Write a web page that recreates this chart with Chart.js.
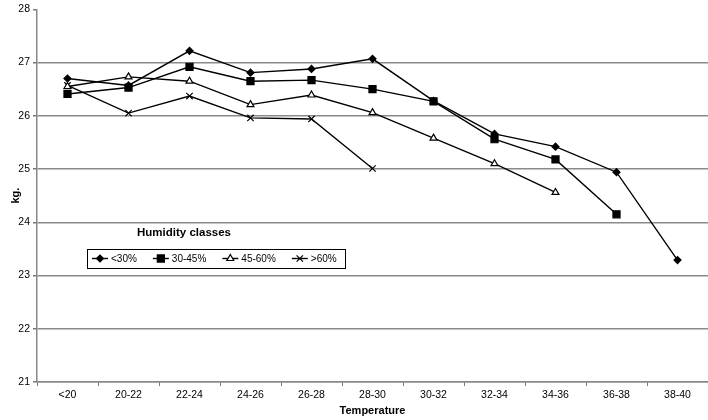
<!DOCTYPE html>
<html>
<head>
<meta charset="utf-8">
<script src="https://cdn.jsdelivr.net/npm/chart.js@4.4.0/dist/chart.umd.min.js"></script>
<style>
  html, body { margin: 0; padding: 0; background: #fff; }
  #wrap { width: 708px; height: 420px; }
</style>
</head>
<body>
<div id="wrap"><canvas id="chart" width="708" height="420"></canvas></div>
<script>
// categories and series values
const categories = ['<20', '20-22', '22-24', '24-26', '26-28', '28-30', '30-32', '32-34', '34-36', '36-38', '38-40'];
const humidityBelow30 = [26.70, 26.57, 27.22, 26.81, 26.88, 27.07, 26.28, 25.66, 25.42, 24.94, 23.29];
const humidity30to45 = [26.41, 26.53, 26.92, 26.65, 26.67, 26.50, 26.27, 25.56, 25.18, 24.15];
const humidity45to60 = [26.55, 26.73, 26.65, 26.21, 26.39, 26.06, 25.58, 25.10, 24.56];
const humidityAbove60 = [26.57, 26.05, 26.37, 25.96, 25.94, 25.01];
const seriesLabels = ['<30%', '30-45%', '45-60%', '>60%'];
const yTicks = [21, 22, 23, 24, 25, 26, 27, 28];

const FONT = 'Liberation Sans, Arial, sans-serif';

function series(label, data, style, radius, fill) {
    return {
        label: label,
        data: data,
        borderColor: '#000',
        borderWidth: 1.4,
        pointStyle: style,
        pointRadius: radius,
        pointBackgroundColor: fill,
        pointBorderColor: '#000',
        pointBorderWidth: 1.2,
        tension: 0
    };
}

// draws the "Humidity classes" box inside the plot, like the original
const boxLegend = {
    id: 'boxLegend',
    afterDatasetsDraw(chart) {
        const ctx = chart.ctx;
        ctx.save();
        ctx.fillStyle = '#000';
        ctx.font = 'bold 11.5px ' + FONT;
        ctx.textAlign = 'center';
        ctx.textBaseline = 'middle';
        ctx.fillText('Humidity classes', 184, 233);

        ctx.font = '10px ' + FONT;
        ctx.textAlign = 'left';
        const left = 87.5;
        let x = 92;
        const y = 258.5;
        let end = x;
        chart.data.datasets.forEach(ds => {
            ctx.strokeStyle = '#000';
            ctx.lineWidth = 1.4;
            ctx.beginPath();
            ctx.moveTo(x, y);
            ctx.lineTo(x + 16, y);
            ctx.stroke();
            ctx.fillStyle = ds.pointBackgroundColor;
            ctx.strokeStyle = '#000';
            ctx.lineWidth = 1.2;
            Chart.helpers.drawPoint(ctx, {
                pointStyle: ds.pointStyle,
                radius: ds.pointRadius,
                rotation: 0,
                borderWidth: 1.2
            }, x + 8, y);
            ctx.fillStyle = '#000';
            ctx.fillText(ds.label, x + 19, y + 0.5);
            end = x + 19 + ctx.measureText(ds.label).width;
            x = end + 16;
        });
        ctx.strokeStyle = '#000';
        ctx.lineWidth = 1;
        ctx.strokeRect(left, 249.5, Math.round(end + 9 - left), 19);
        ctx.restore();
    }
};

new Chart(document.getElementById('chart'), {
    type: 'line',
    data: {
        labels: categories,
        datasets: [
            series(seriesLabels[0], humidityBelow30, 'rectRot', 3.5, '#000'),
            series(seriesLabels[1], humidity30to45, 'rect', 5, '#000'),
            series(seriesLabels[2], humidity45to60, 'triangle', 4, '#fff'),
            series(seriesLabels[3], humidityAbove60, 'crossRot', 4.5, '#000')
        ]
    },
    options: {
        responsive: false,
        animation: false,
        layout: { autoPadding: false, padding: { top: 6, right: 0, left: 0, bottom: 0 } },
        plugins: {
            legend: { display: false },
            tooltip: { enabled: false }
        },
        scales: {
            x: {
                offset: true,
                afterFit: scale => { scale.height = 38; },
                grid: {
                    offset: true,
                    drawOnChartArea: false,
                    drawTicks: true,
                    tickLength: 4,
                    tickColor: '#777'
                },
                border: { color: '#888', width: 1.5 },
                ticks: {
                    color: '#000',
                    padding: 3,
                    maxRotation: 0,
                    font: { family: FONT, size: 10.5 }
                },
                title: {
                    display: true,
                    text: 'Temperature',
                    color: '#000',
                    padding: { top: 2, bottom: 2 },
                    font: { family: FONT, size: 11, weight: 'bold' }
                }
            },
            y: {
                min: yTicks[0],
                max: yTicks[yTicks.length - 1],
                afterFit: scale => { scale.width = 37; },
                afterBuildTicks: scale => { scale.ticks = yTicks.map(v => ({ value: v })); },
                grid: {
                    color: c => (c.tick && c.tick.value === 28) ? 'rgba(0,0,0,0)' : '#8a8a8a',
                    lineWidth: 1.5,
                    tickLength: 4,
                    tickColor: '#777'
                },
                border: { color: '#888', width: 1.5 },
                ticks: {
                    color: '#000',
                    padding: 3,
                    font: { family: FONT, size: 10.5 }
                },
                title: {
                    display: true,
                    text: 'kg.',
                    color: '#000',
                    padding: { top: 9, bottom: 0 },
                    font: { family: FONT, size: 11, weight: 'bold' }
                }
            }
        }
    },
    plugins: [boxLegend]
});
</script>
</body>
</html>
